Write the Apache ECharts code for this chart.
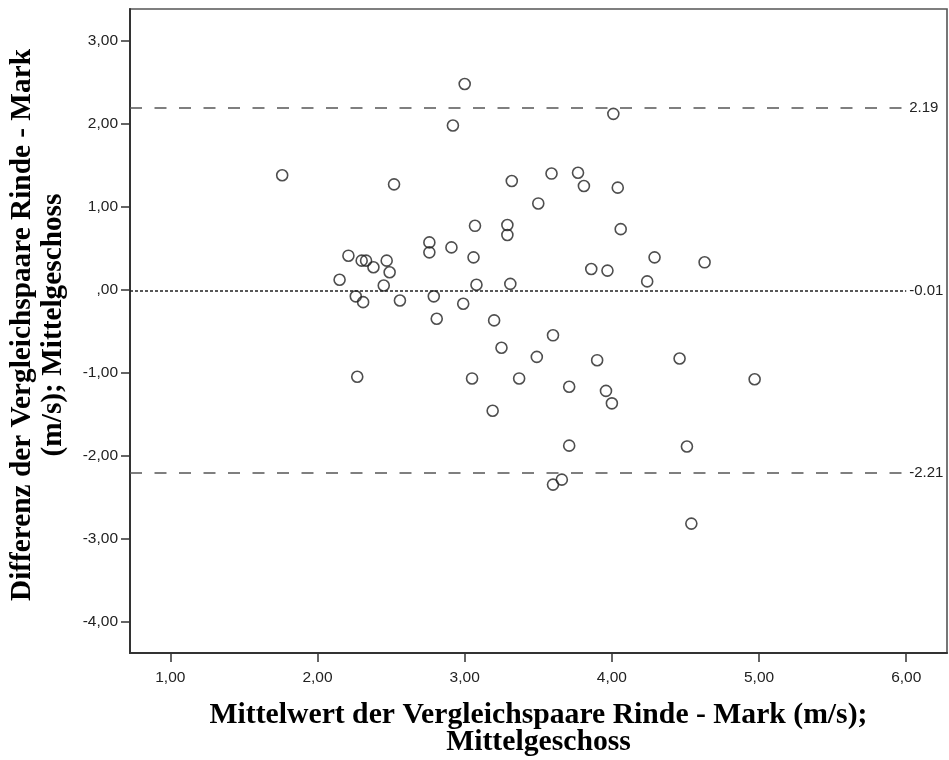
<!DOCTYPE html>
<html>
<head>
<meta charset="utf-8">
<script src="https://cdn.jsdelivr.net/npm/echarts@6/dist/echarts.min.js"></script>
<style>html,body{margin:0;padding:0;background:#fff;}#c{width:949px;height:760px;}</style>
</head>
<body>
<div id="c"></div>
<script>
// Mean of pair (x) and difference (y)
var meanValues = [1.76, 3.00, 2.92, 4.01, 2.52, 3.32, 3.59, 3.77, 3.81, 4.04,
  3.50, 3.07, 3.29, 3.29, 4.06, 2.76, 2.76, 2.91, 2.21, 3.06,
  4.29, 4.63, 2.30, 2.33, 2.38, 2.47, 2.49, 2.15, 2.45, 3.08,
  3.31, 3.86, 3.97, 4.24, 2.26, 2.31, 2.56, 2.79, 2.99, 2.81,
  3.20, 3.25, 3.60, 3.49, 3.90, 4.46, 2.27, 3.05, 3.37, 3.71,
  3.96, 4.00, 3.19, 3.71, 4.51, 4.97, 3.60, 3.66, 4.54];
var diffValues = [1.38, 2.48, 1.98, 2.12, 1.27, 1.31, 1.40, 1.41, 1.25, 1.23,
  1.04, 0.77, 0.78, 0.66, 0.73, 0.57, 0.45, 0.51, 0.41, 0.39,
  0.39, 0.33, 0.35, 0.35, 0.27, 0.35, 0.21, 0.12, 0.05, 0.06,
  0.07, 0.25, 0.23, 0.10, -0.08, -0.15, -0.13, -0.08, -0.17, -0.35,
  -0.37, -0.70, -0.55, -0.81, -0.85, -0.83, -1.05, -1.07, -1.07, -1.17,
  -1.22, -1.37, -1.46, -1.88, -1.89, -1.08, -2.35, -2.29, -2.82];
var limitValues = [2.19, -0.01, -2.21];
var limitLabels = ['2.19', '-0.01', '-2.21'];
var xTicks = [1, 2, 3, 4, 5, 6];
var xTickLabels = ['1,00', '2,00', '3,00', '4,00', '5,00', '6,00'];
var yTicks = [-4, -3, -2, -1, 0, 1, 2, 3];
var yTickLabels = ['-4,00', '-3,00', '-2,00', '-1,00', ',00', '1,00', '2,00', '3,00'];
var xTitle = 'Mittelwert der Vergleichspaare Rinde - Mark (m/s);\nMittelgeschoss';
var yTitle = 'Differenz der Vergleichspaare Rinde - Mark\n(m/s); Mittelgeschoss';

var X_MIN = 0.726, X_MAX = 6.277, Y_MIN = -4.38, Y_MAX = 3.384, LINE_END = 6.0;

var points = meanValues.map(function (m, i) { return [m, diffValues[i]]; });

function labelFor(ticks, labels) {
  return function (v) {
    for (var i = 0; i < ticks.length; i++) if (Math.abs(ticks[i] - v) < 1e-6) return labels[i];
    return '';
  };
}

var markLines = limitValues.map(function (v, i) {
  var isMean = i === 1;
  return [
    { coord: [X_MIN, v], lineStyle: isMean ? { type: [3, 2], color: '#222', width: 1.5 } : { type: [12, 12.5], color: '#555', width: 1.6 } },
    { coord: [LINE_END, v], label: { formatter: limitLabels[i] } }
  ];
});

var chart = echarts.init(document.getElementById('c'), null, { renderer: 'canvas' });
chart.setOption({
  animation: false,
  backgroundColor: '#fff',
  grid: { left: 130, top: 9, right: 2, bottom: 107, show: true, borderColor: '#555', borderWidth: 1.6, containLabel: false, outerBoundsMode: 'none' },
  graphic: [{
    type: 'text',
    x: 38, y: 325,
    rotation: Math.PI / 2,
    silent: true,
    style: {
      text: yTitle,
      font: 'bold 29.3px "Liberation Serif"',
      fill: '#000',
      align: 'center',
      verticalAlign: 'middle',
      lineHeight: 31
    }
  }],
  xAxis: {
    type: 'value', min: X_MIN, max: X_MAX,
    name: xTitle, nameLocation: 'middle', nameGap: 49, nameMoveOverlap: false,
    nameTextStyle: { fontFamily: 'Liberation Serif', fontWeight: 'bold', fontSize: 29.7, color: '#000', lineHeight: 27 },
    axisLine: { show: true, onZero: false, lineStyle: { color: '#333', width: 2 } },
    axisTick: { show: true, customValues: xTicks, length: 9, lineStyle: { color: '#333', width: 1.5 } },
    axisLabel: { customValues: xTicks, formatter: labelFor(xTicks, xTickLabels), margin: 17, fontFamily: 'Liberation Sans', fontSize: 15.5, color: '#222' },
    splitLine: { show: false }
  },
  yAxis: {
    type: 'value', min: Y_MIN, max: Y_MAX,
    axisLine: { show: true, onZero: false, lineStyle: { color: '#333', width: 2 } },
    axisTick: { show: true, customValues: yTicks, length: 9, lineStyle: { color: '#333', width: 1.5 } },
    axisLabel: { customValues: yTicks, formatter: labelFor(yTicks, yTickLabels), margin: 12, fontFamily: 'Liberation Sans', fontSize: 15.5, color: '#222' },
    splitLine: { show: false }
  },
  series: [{
    type: 'scatter',
    data: points,
    symbol: 'circle',
    symbolSize: 11,
    itemStyle: { color: 'rgba(255,255,255,0)', borderColor: '#222', borderWidth: 1.6 },
    emphasis: { disabled: true },
    markLine: {
      silent: true, symbol: 'none', animation: false,
      label: { show: true, position: 'end', distance: 3, fontFamily: 'Liberation Sans', fontSize: 15, color: '#222' },
      data: markLines
    }
  }]
});
</script>
</body>
</html>
